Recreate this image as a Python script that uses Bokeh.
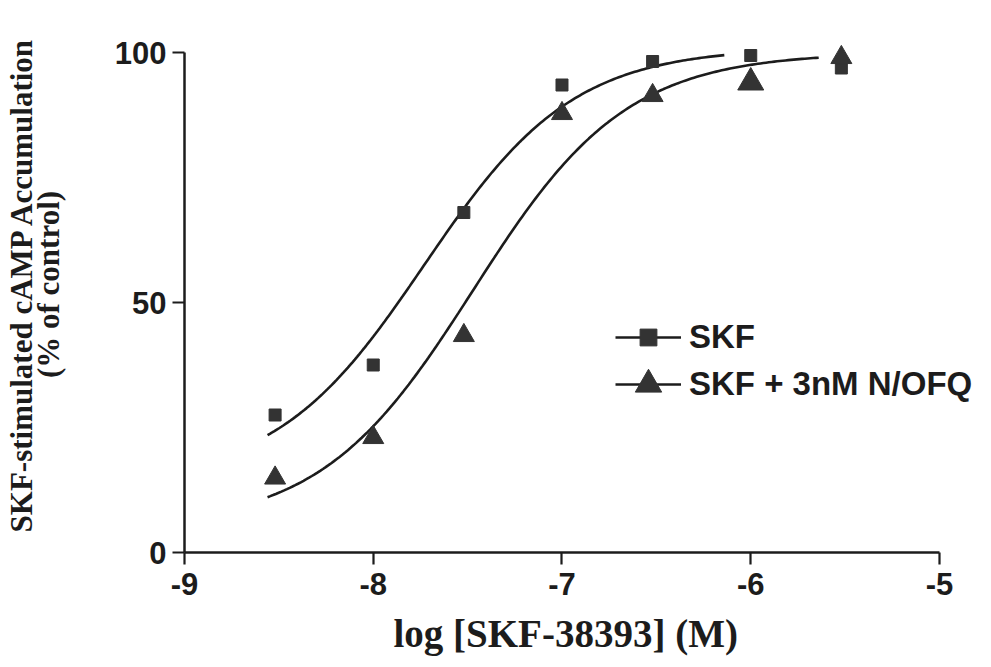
import numpy as np
from bokeh.plotting import figure
from bokeh.models import Range1d, Legend, LegendItem, FixedTicker, Title
from bokeh.embed import file_html
from bokeh.resources import INLINE

# log molar concentration of SKF-38393
log_conc = [-8.52, -8.0, -7.52, -7.0, -6.52, -6.0, -5.52]
# cAMP accumulation, % of control
skf = [27.5, 37.5, 68.0, 93.5, 98.2, 99.4, 96.9]
skf_nofq = [14.9, 23.0, 43.4, 87.8, 91.4, 94.0, 99.0]

# four-parameter logistic fits: bottom, top, logEC50, Hill slope
skf_fit = dict(bottom=14.0, top=101.0, log_ec50=-7.73, hill=1.10)
nofq_fit = dict(bottom=5.0, top=100.0, log_ec50=-7.47, hill=1.07)
skf_span = (-8.56, -6.14)
nofq_span = (-8.56, -5.64)

x_ticks = [-9, -8, -7, -6, -5]
y_ticks = [0, 50, 100]

label_skf = "SKF"
label_nofq = "SKF + 3nM N/OFQ"
x_title = "log [SKF-38393] (M)"
y_title = "SKF-stimulated cAMP Accumulation\n(% of control)"

# marker sizes for the triangle series (px)
tri_marker_px = [21, 21, 21, 21, 21, 26, 21]


def logistic(span, bottom, top, log_ec50, hill):
    xs = np.linspace(span[0], span[1], 200)
    ys = bottom + (top - bottom) / (1.0 + 10 ** ((log_ec50 - xs) * hill))
    return xs, ys


INK = "#1c1c1c"
MARK = "#333333"
SANS = "Liberation Sans"
SERIF = "Liberation Serif"

# the frame runs past x = -5 so the legend text is not clipped;
# the axis itself stops at -5 through its bounds
p = figure(width=991, height=667, output_backend="svg", toolbar_location=None,
           x_range=Range1d(-9, -4.7245), y_range=Range1d(0, 107.2),
           min_border_left=184, min_border_right=0,
           min_border_top=16, min_border_bottom=115)
p.outline_line_color = None
p.grid.visible = False
p.background_fill_color = "white"
p.border_fill_color = "white"

for ax in (p.xaxis[0], p.yaxis[0]):
    ax.axis_line_width = 2.5
    ax.axis_line_color = INK
    ax.major_tick_line_width = 2.2
    ax.major_tick_line_color = INK
    ax.major_tick_in = 0
    ax.major_tick_out = 12
    ax.minor_tick_line_color = None
    ax.major_label_text_font = SANS
    ax.major_label_text_font_style = "bold"
    ax.major_label_text_font_size = "31px"
    ax.major_label_text_color = INK

p.xaxis.ticker = FixedTicker(ticks=x_ticks)
p.yaxis.ticker = FixedTicker(ticks=y_ticks)
p.xaxis.major_label_overrides = {t: str(t) for t in x_ticks}
p.xaxis.bounds = (x_ticks[0], x_ticks[-1])
p.yaxis.bounds = (y_ticks[0], y_ticks[-1])
p.xaxis.major_label_standoff = 8
p.yaxis.major_label_standoff = 6

# x title sits under the -9..-5 axis span rather than the wider frame
p.add_layout(Title(text=x_title, text_font=SERIF, text_font_style="bold",
                   text_font_size="39px", text_color=INK, align="left",
                   offset=209, standoff=25), "below")

p.yaxis.axis_label = y_title
p.yaxis.axis_label_text_font = SERIF
p.yaxis.axis_label_text_font_style = "bold"
p.yaxis.axis_label_text_font_size = "31px"
p.yaxis.axis_label_text_line_height = 0.76
p.yaxis.axis_label_text_color = INK
p.yaxis.axis_label_standoff = 46

# fitted curves
xs1, ys1 = logistic(skf_span, **skf_fit)
xs2, ys2 = logistic(nofq_span, **nofq_fit)
c1 = p.line(xs1, ys1, line_color=INK, line_width=2.6)
c2 = p.line(xs2, ys2, line_color=INK, line_width=2.6)

# measured points
m1 = p.scatter(log_conc, skf, marker="square", size=12, fill_color=MARK,
               line_color=MARK)
m2 = p.scatter(x=log_conc, y=skf_nofq, marker="triangle", size=tri_marker_px,
               fill_color=MARK, line_color=MARK)


def make_legend(item, loc, glyph_h):
    return Legend(items=[item], location=loc, orientation="vertical",
                  glyph_width=66, glyph_height=glyph_h, label_standoff=8,
                  label_text_font=SANS, label_text_font_style="bold",
                  label_text_font_size="33px", label_text_color=INK,
                  padding=0, margin=0, spacing=0,
                  border_line_color=None, background_fill_alpha=0)


p.add_layout(make_legend(LegendItem(label=label_skf, renderers=[c1, m1]),
                         (431, 194), 42))
p.add_layout(make_legend(LegendItem(label=label_nofq, renderers=[c2, m2]),
                         (431, 135), 66))

open("out.html", "w").write(file_html(p, INLINE))
